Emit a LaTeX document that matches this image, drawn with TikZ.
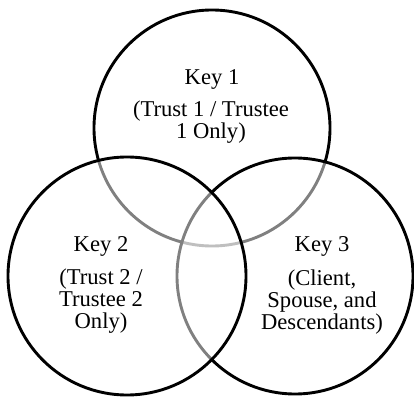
\documentclass[tikz,border=0pt]{standalone}
\usepackage{fontspec}
\setmainfont{Liberation Serif}
\begin{document}
\begin{tikzpicture}[x=1pt,y=1pt,
        keycircle/.style={circle,draw,line width=2.9pt,inner sep=0pt,minimum size=#1,
            fill=white,fill opacity=0.5,draw opacity=1},
        keytext/.style={font=\fontsize{22.6}{22}\selectfont,align=center,anchor=base,inner sep=0pt}]
        \useasboundingbox (0,0) rectangle (414,396);
        %% Circles (Key 1 below, Key 3 and Key 2 laid over it)
        \node[keycircle=236pt] (key1) at (212,268) {};
        \node[keycircle=236pt] (key3) at (295,120) {};
        \node[keycircle=238pt] (key2) at (127,120) {};
        %% Labels (base = last line of each block)
        \node[keytext] (k1) at ([shift={(0,43)}]key1.center) {Key 1};
        \node[keytext] (t1) at ([shift={(-1,-11)}]key1.center) {(Trust 1 / Trustee\\1 Only)};
        \node[keytext] (k2) at ([shift={(-26,24)}]key2.center) {Key 2};
        \node[keytext] (t2) at ([shift={(-26,-52)}]key2.center) {(Trust 2 /\\Trustee 2\\Only)};
        \node[keytext] (k3) at ([shift={(27,24)}]key3.center) {Key 3};
        \node[keytext] (t3) at ([shift={(27,-53)}]key3.center) {(Client,\\Spouse, and\\Descendants)};
    \end{tikzpicture}
\end{document}
